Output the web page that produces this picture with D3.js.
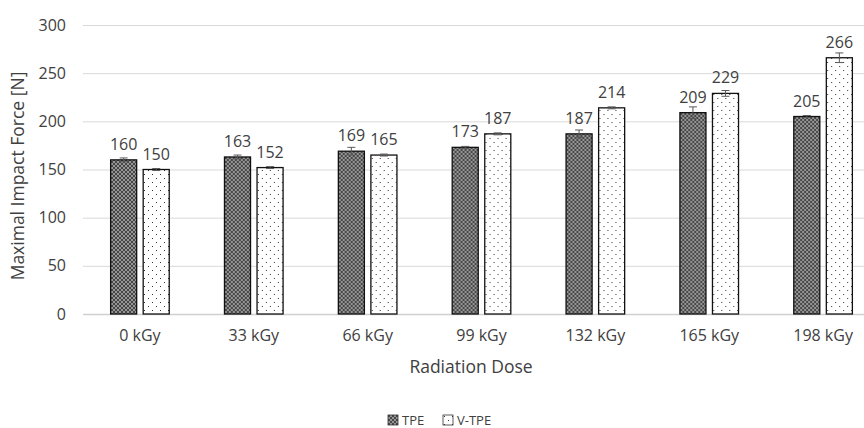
<!DOCTYPE html>
<html>
<head>
<meta charset="utf-8">
<script src="https://cdn.jsdelivr.net/npm/d3@7"></script>
<style>
  body { margin: 0; background: #fff; }
  text { font-family: "Open Sans", sans-serif; fill: #404040; }
</style>
</head>
<body>
<div id="chart"></div>
<script>
const doses = ["0 kGy", "33 kGy", "66 kGy", "99 kGy", "132 kGy", "165 kGy", "198 kGy"];
const seriesNames = ["TPE", "V-TPE"];
const tpeValues = [160, 163, 169, 173, 187, 209, 205];
const tpeErrors = [2, 2, 4, 1, 4, 6, 1];
const vtpeValues = [150, 152, 165, 187, 214, 229, 266];
const vtpeErrors = [1, 1, 1, 1, 1, 3, 5];
const yTicks = [0, 50, 100, 150, 200, 250, 300];

const W = 864, H = 428;
const margin = {top: 25, right: -16, bottom: 114, left: 83},
      width = W - margin.left - margin.right,
      height = H - margin.top - margin.bottom;

const FONT = "'Open Sans', sans-serif";

const svgRoot = d3.select("#chart")
                  .append("svg")
                  .attr("width", W)
                  .attr("height", H);

const defs = svgRoot.append("defs");

// TPE: dark checkered fill
const pTpe = defs.append("pattern")
                 .attr("id", "pat-tpe")
                 .attr("patternUnits", "userSpaceOnUse")
                 .attr("width", 4).attr("height", 4);
pTpe.append("rect").attr("width", 4).attr("height", 4).attr("fill", "#959595");
pTpe.append("rect").attr("width", 2).attr("height", 2).attr("fill", "#474747");
pTpe.append("rect").attr("x", 2).attr("y", 2).attr("width", 2).attr("height", 2).attr("fill", "#474747");

// V-TPE: white with sparse dots
const pV = defs.append("pattern")
               .attr("id", "pat-vtpe")
               .attr("patternUnits", "userSpaceOnUse")
               .attr("width", 8).attr("height", 8);
pV.append("rect").attr("width", 8).attr("height", 8).attr("fill", "#fff");
pV.append("rect").attr("x", 1).attr("y", 1).attr("width", 1).attr("height", 1).attr("fill", "#333");
pV.append("rect").attr("x", 5).attr("y", 5).attr("width", 1).attr("height", 1).attr("fill", "#333");

const svg = svgRoot.append("g")
                   .attr("transform", `translate(${margin.left},${margin.top})`);

const x = d3.scaleBand()
            .domain(doses)
            .range([0, width]);

const x1 = d3.scaleBand()
             .domain(seriesNames)
             .range([x.bandwidth() / 2 - 29.3, x.bandwidth() / 2 + 29.3])
             .paddingInner(0.2);

const y = d3.scaleLinear()
            .domain([0, 300])
            .range([height, 0]);

// gridlines + y labels
svg.append("g")
   .call(d3.axisLeft(y).tickValues(yTicks).tickSize(-width).tickPadding(17))
   .call(g => g.select(".domain").remove())
   .call(g => g.selectAll(".tick line").attr("stroke", "#d9d9d9").attr("stroke-width", 1))
   .call(g => g.selectAll(".tick text").attr("font-size", 16).attr("fill", "#404040")
                 .style("font-family", FONT));

// x axis
svg.append("g")
   .attr("transform", `translate(0,${height})`)
   .call(d3.axisBottom(x).tickSize(0).tickPadding(16))
   .call(g => g.select(".domain").attr("stroke", "#d0d0d0").attr("stroke-width", 1.5))
   .call(g => g.selectAll(".tick text").attr("font-size", 16).attr("fill", "#404040")
                 .style("font-family", FONT));

const data = doses.map((d, i) => ({
  dose: d,
  bars: [
    {name: "TPE", value: tpeValues[i], err: tpeErrors[i]},
    {name: "V-TPE", value: vtpeValues[i], err: vtpeErrors[i]}
  ]
}));

const groups = svg.selectAll(".grp")
                  .data(data)
                  .enter()
                  .append("g")
                  .attr("class", "grp")
                  .attr("transform", d => `translate(${x(d.dose)},0)`);

groups.selectAll("rect")
      .data(d => d.bars)
      .enter()
      .append("rect")
      .attr("x", d => x1(d.name))
      .attr("y", d => y(d.value))
      .attr("width", x1.bandwidth())
      .attr("height", d => height - y(d.value))
      .attr("fill", d => d.name === "TPE" ? "url(#pat-tpe)" : "url(#pat-vtpe)")
      .attr("stroke", "#111")
      .attr("stroke-width", 1.3);

// error bars
const eb = groups.selectAll(".err")
                 .data(d => d.bars)
                 .enter()
                 .append("g")
                 .attr("class", "err")
                 .attr("stroke", "#595959")
                 .attr("stroke-width", 1);
eb.append("line")
  .attr("x1", d => x1(d.name) + x1.bandwidth() / 2)
  .attr("x2", d => x1(d.name) + x1.bandwidth() / 2)
  .attr("y1", d => y(d.value + d.err))
  .attr("y2", d => y(d.value - d.err));
eb.append("line")
  .attr("x1", d => x1(d.name) + x1.bandwidth() / 2 - 4)
  .attr("x2", d => x1(d.name) + x1.bandwidth() / 2 + 4)
  .attr("y1", d => y(d.value + d.err))
  .attr("y2", d => y(d.value + d.err));
eb.append("line")
  .attr("x1", d => x1(d.name) + x1.bandwidth() / 2 - 4)
  .attr("x2", d => x1(d.name) + x1.bandwidth() / 2 + 4)
  .attr("y1", d => y(d.value - d.err))
  .attr("y2", d => y(d.value - d.err));

// value labels
groups.selectAll(".label")
      .data(d => d.bars)
      .enter()
      .append("text")
      .attr("class", "label")
      .attr("x", d => x1(d.name) + x1.bandwidth() / 2)
      .attr("y", d => y(d.value) - 10)
      .attr("text-anchor", "middle")
      .attr("font-size", 16)
      .text(d => d.value);

// axis titles
svgRoot.append("text")
       .attr("transform", "translate(24,176) rotate(-90)")
       .attr("text-anchor", "middle")
       .attr("font-size", 17.5)
       .text("Maximal Impact Force [N]");

svgRoot.append("text")
       .attr("x", 471)
       .attr("y", 373)
       .attr("text-anchor", "middle")
       .attr("font-size", 17.5)
       .text("Radiation Dose");

// legend
const legend = svgRoot.append("g").attr("transform", "translate(388,415)");
const legItems = [
  {name: "TPE", fill: "url(#pat-tpe)", x: 0},
  {name: "V-TPE", fill: "url(#pat-vtpe)", x: 55}
];
const li = legend.selectAll("g")
                 .data(legItems)
                 .enter()
                 .append("g")
                 .attr("transform", d => `translate(${d.x},0)`);
li.append("rect")
  .attr("width", 10).attr("height", 10)
  .attr("fill", d => d.fill)
  .attr("stroke", "#333").attr("stroke-width", 0.8);
li.append("text")
  .attr("x", 14).attr("y", 10)
  .attr("font-size", 13)
  .text(d => d.name);
</script>
</body>
</html>
